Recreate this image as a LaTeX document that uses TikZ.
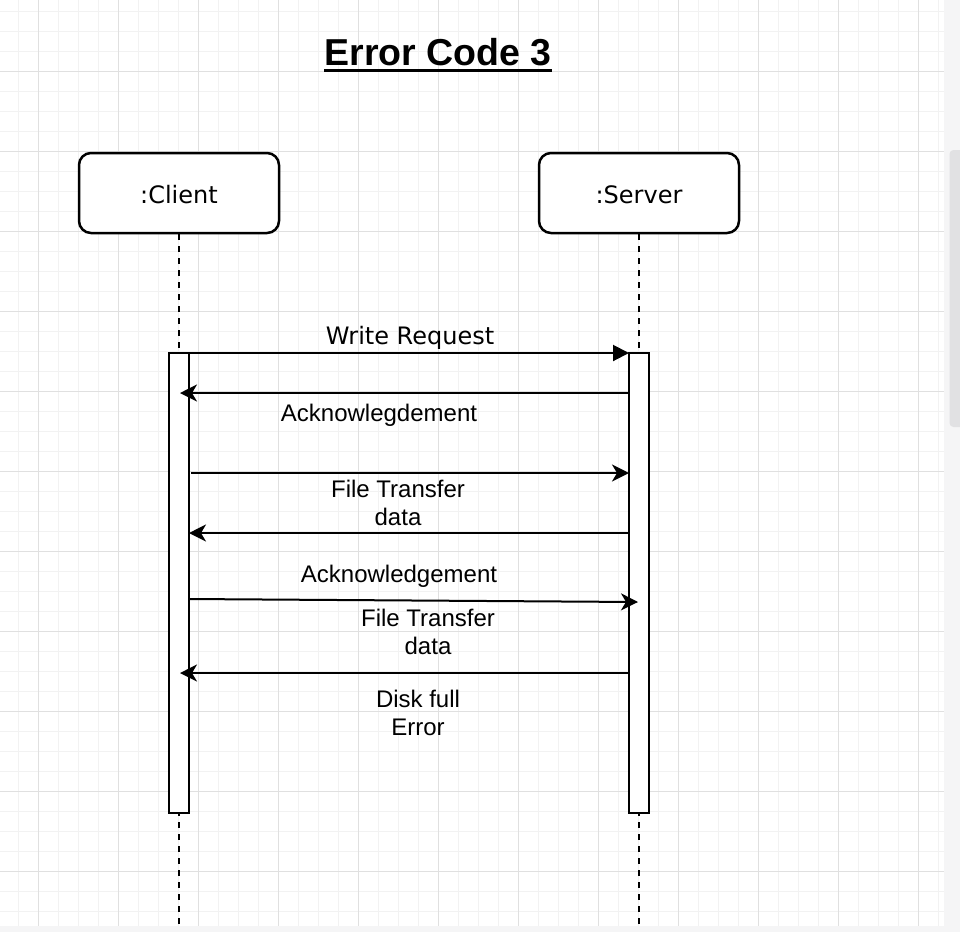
\documentclass[tikz,border=0pt]{standalone}
\usepackage{fontspec}
\setmainfont{Liberation Sans}
\newfontfamily\dvsans{DejaVu Sans}
\usetikzlibrary{arrows.meta}
\definecolor{gridminor}{HTML}{F2F2F2}
\definecolor{gridmajor}{HTML}{E0E0E0}
\definecolor{panelgrey}{HTML}{F5F5F6}
\definecolor{thumbgrey}{HTML}{E1E1E3}
\begin{document}
\begin{tikzpicture}[x=1pt,y=-1pt,
  minorgrid/.style={draw=gridminor,line width=1pt},
  majorgrid/.style={draw=gridmajor,line width=1pt},
  actor/.style={draw,line width=2.5pt,rounded corners=12pt,minimum width=200pt,
    minimum height=80pt,fill=white,inner sep=0pt,text height=21pt,text depth=0pt,
    font=\dvsans\fontsize{24}{28}\selectfont},
  lifeline/.style={line width=2pt,dash pattern=on 6pt off 6pt},
  activation/.style={draw,line width=2pt,fill=white,minimum width=20pt,
    minimum height=460pt,inner sep=0pt},
  msg/.style={line width=2pt,-{Stealth[length=17pt,width=17pt,inset=5pt]}},
  callmsg/.style={line width=2pt,-{Triangle[length=16pt,width=16pt]}},
  lbl/.style={font=\fontsize{24}{27.5}\selectfont,align=center,anchor=base,inner sep=0pt},
]
\useasboundingbox (0,0) rectangle (960,932);
\fill[white] (0,0) rectangle (960,932);

% background grid
\foreach \i in {0,...,46} \draw[minorgrid] ({18.3+20*\i},0) -- ({18.3+20*\i},926);
\foreach \i in {0,...,45} \draw[minorgrid] (0,{11.7+20*\i}) -- (944,{11.7+20*\i});
\foreach \i in {0,...,11} \draw[majorgrid] ({38.3+80*\i},0) -- ({38.3+80*\i},926);
\foreach \i in {0,...,10} \draw[majorgrid] (0,{71.7+80*\i}) -- (944,{71.7+80*\i});

% window edges
\fill[panelgrey] (944,0) rectangle (960,932);
\fill[panelgrey] (0,926) rectangle (944,932);
\fill[thumbgrey,rounded corners=4pt] (949.5,150) rectangle (966,427);

% title
\node[font=\bfseries\fontsize{37.5}{42}\selectfont,anchor=base,inner sep=0pt]
  (title) at (438,65) {Error Code 3};
\draw[line width=2.6pt] ([yshift=-5.7pt]title.base west) -- ([yshift=-5.7pt]title.base east);

% participants
\node[actor] (client) at (179,193) {:Client};
\node[actor] (server) at (639,193) {:Server};

% activation bar positions
\coordinate (cbarc) at (179,583);
\coordinate (sbarc) at (639,583);
\coordinate (cend) at (179,926);
\coordinate (send) at (639,926);

% lifelines
\draw[lifeline] (client.south) -- (cend);
\draw[lifeline] (server.south) -- (send);

% activation bars
\node[activation] (cbar) at (cbarc) {};
\node[activation] (sbar) at (sbarc) {};

% message end points
\coordinate (m1a) at (179,353);  \coordinate (m1b) at (629,353);
\coordinate (m2a) at (629,393);  \coordinate (m2b) at (180,393);
\coordinate (m3a) at (191,473);  \coordinate (m3b) at (629,473);
\coordinate (m4a) at (629,533);  \coordinate (m4b) at (189,533);
\coordinate (m5a) at (189,599);  \coordinate (m5b) at (638,602);
\coordinate (m6a) at (629,673);  \coordinate (m6b) at (180,673);

% messages
\draw[callmsg] (m1a) -- (m1b);
\draw[msg] (m2a) -- (m2b);
\draw[msg] (m3a) -- (m3b);
\draw[msg] (m4a) -- (m4b);
\draw[msg] (m5a) -- (m5b);
\draw[msg] (m6a) -- (m6b);

% message labels (base anchor sits on the last line)
\node[lbl,font=\dvsans\fontsize{24}{27.5}\selectfont] (l1) at (410,344) {Write Request};
\node[lbl] (l2) at (379,421) {Acknowlegdement};
\node[lbl] (l3) at (398,525) {File Transfer\\data};
\node[lbl] (l4) at (399,582) {Acknowledgement};
\node[lbl] (l5) at (428,654) {File Transfer\\data};
\node[lbl] (l6) at (418,735) {Disk full\\Error};
\end{tikzpicture}
\end{document}
